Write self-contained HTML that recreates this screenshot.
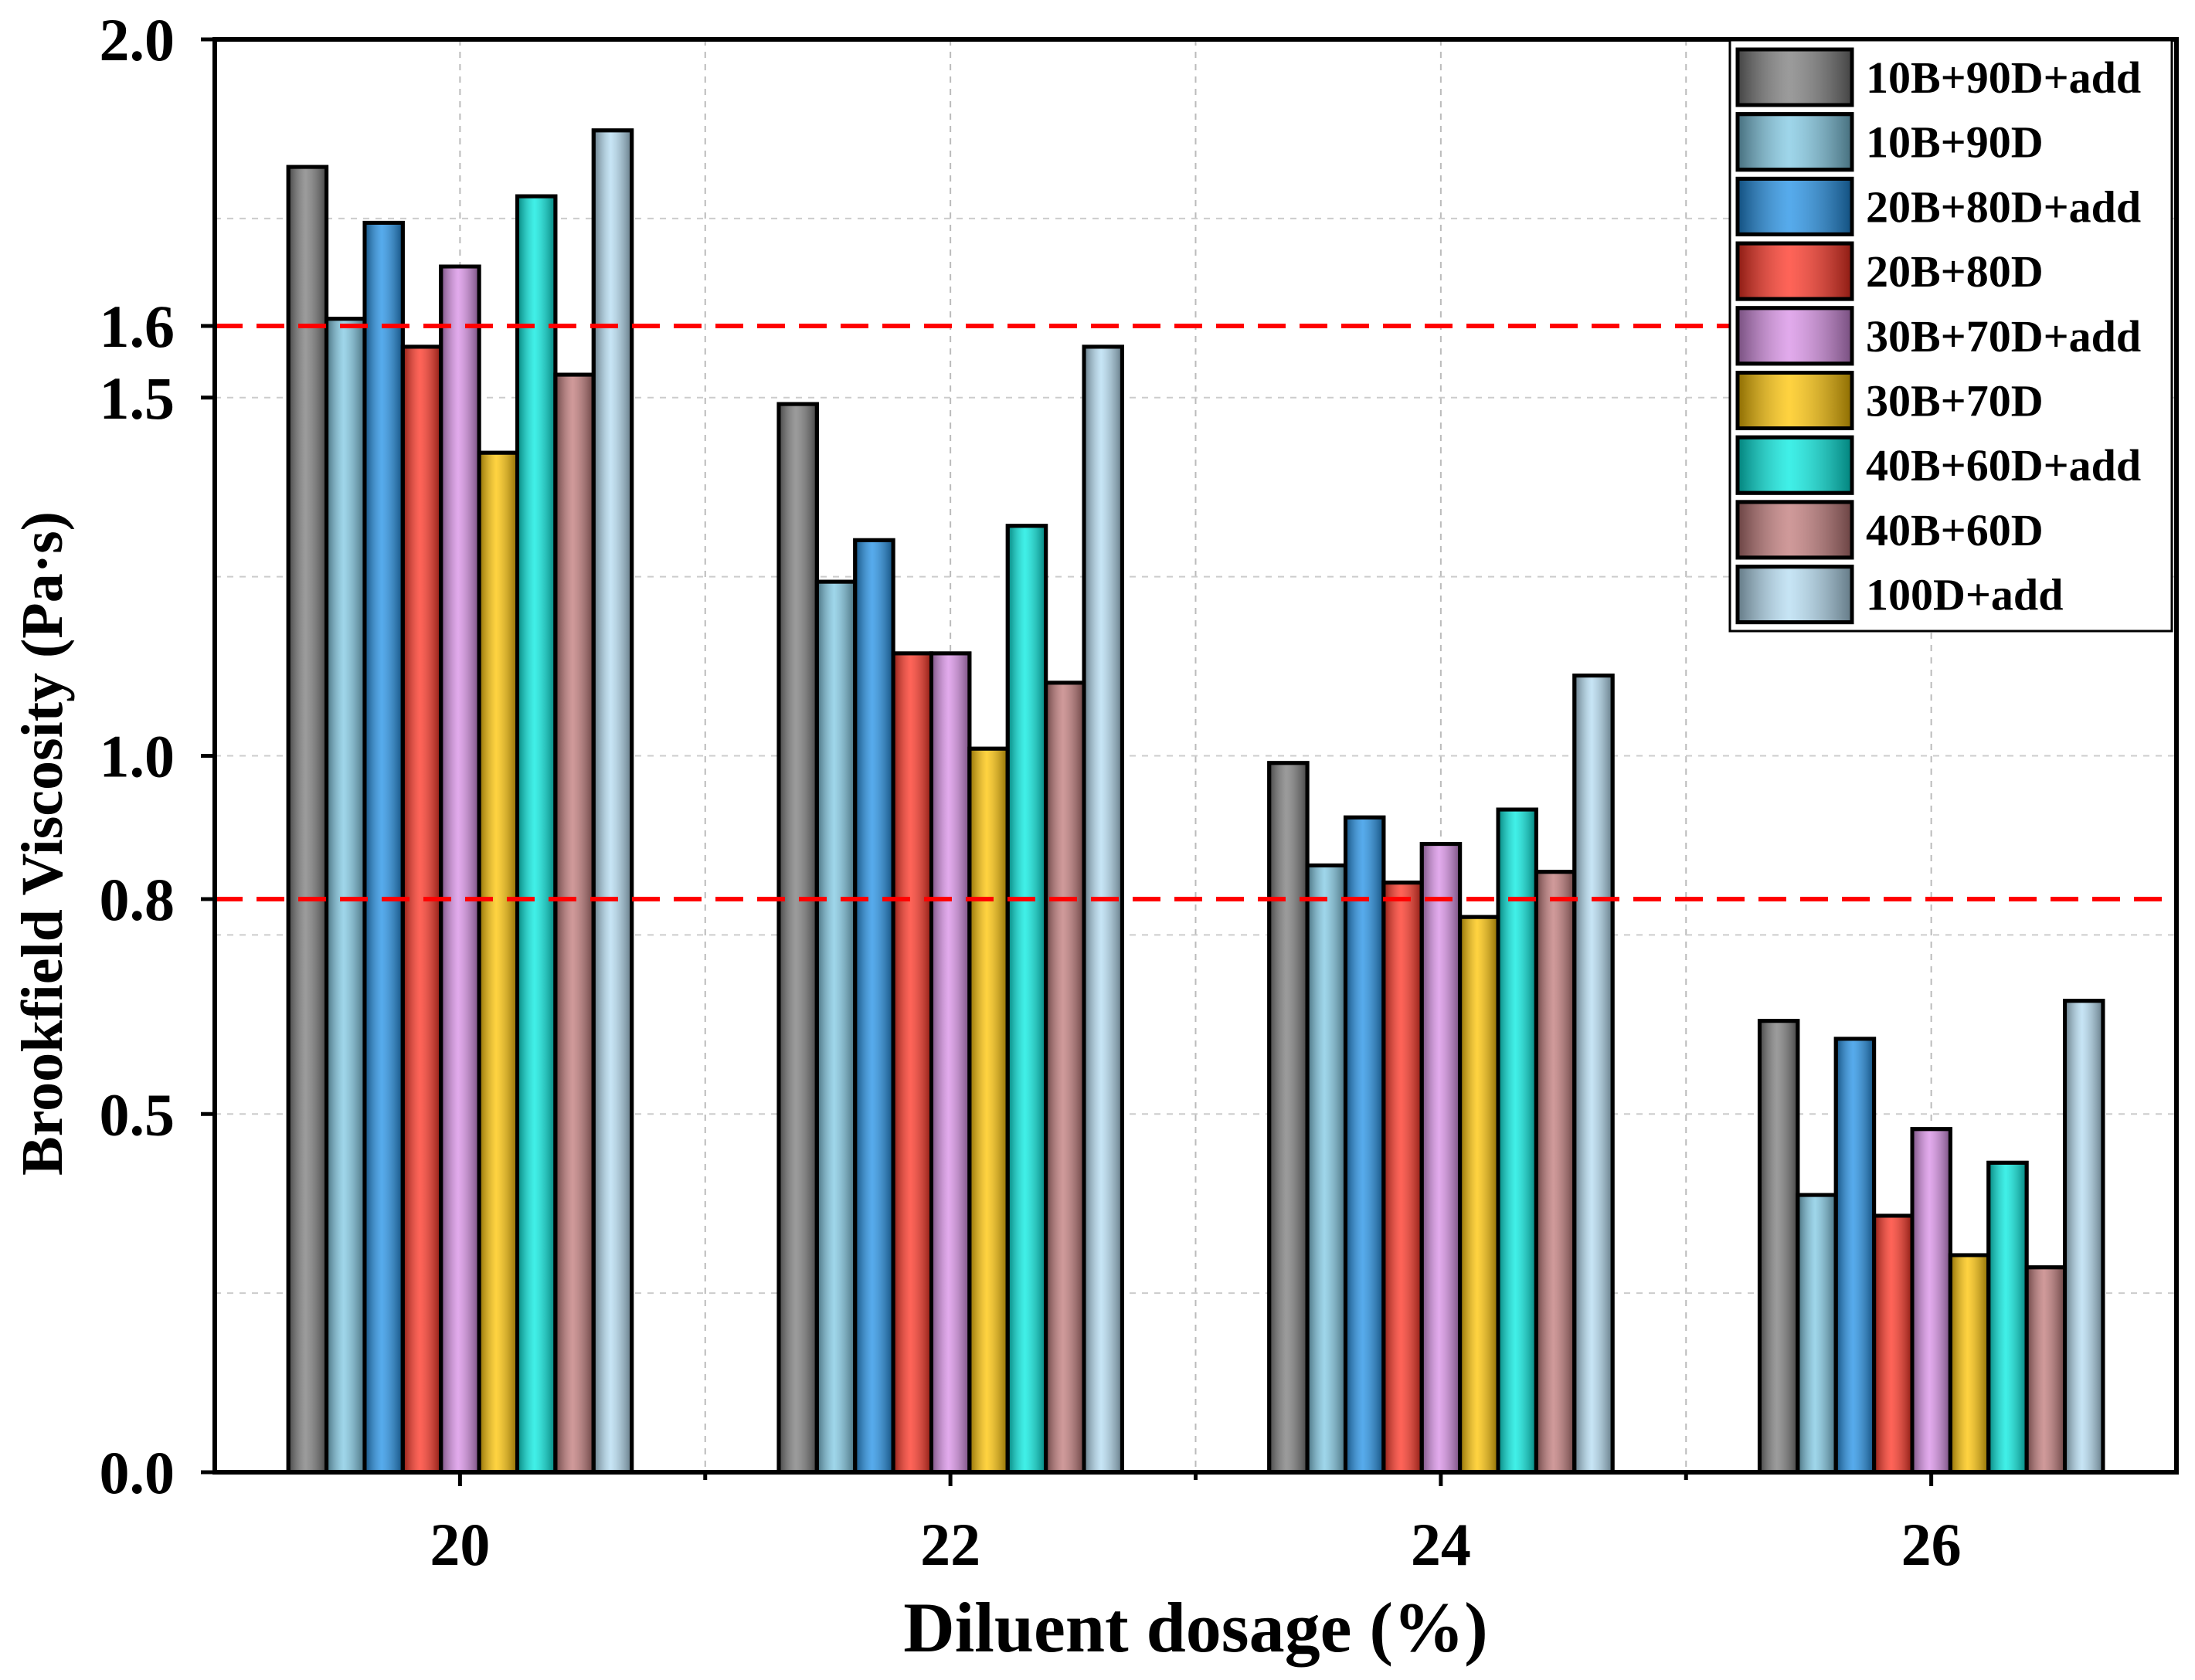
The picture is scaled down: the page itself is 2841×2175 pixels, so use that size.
<!DOCTYPE html>
<html><head><meta charset="utf-8"><style>
html,body{margin:0;padding:0;background:#fff}
svg{display:block}
text{font-family:"Liberation Serif",serif;font-weight:bold;fill:#000}
</style></head><body>
<svg id="chart" width="2841" height="2175" viewBox="0 0 2841 2175" xmlns="http://www.w3.org/2000/svg">
<defs id="defs"></defs>
<g id="grid"></g><g id="bars"></g><g id="axes"></g><g id="legend"></g>
</svg>
<script>
const categories=[20,22,24,26];
const seriesNames=["10B+90D+add","10B+90D","20B+80D+add","20B+80D","30B+70D+add","30B+70D","40B+60D+add","40B+60D","100D+add"];
const s0=[1.822,1.610,1.744,1.571,1.683,1.423,1.781,1.532,1.873];
const s1=[1.491,1.243,1.301,1.143,1.143,1.010,1.321,1.102,1.571];
const s2=[0.990,0.847,0.914,0.823,0.877,0.775,0.925,0.838,1.112];
const s3=[0.630,0.387,0.605,0.358,0.479,0.303,0.432,0.286,0.658];
const valuesByCategory=[s0,s1,s2,s3];
const yTicks=[0.0,0.5,1.0,1.5,2.0];
const refLines=[0.8,1.6];
const colors=["#7a7a7a","#7ec8e3","#1e8fe6","#ff3020","#d88ee6","#ffc400","#00ebe0","#c07878","#b4dcf2"];
const NS="http://www.w3.org/2000/svg";
const L=278,R=2817,T=51,B=1906;
const xmin=19,xmax=27,ymin=0,ymax=2;
const X=v=>L+(v-xmin)/(xmax-xmin)*(R-L);
const Y=v=>B-(v-ymin)/(ymax-ymin)*(B-T);
function el(tag,attrs,parent){const e=document.createElementNS(NS,tag);for(const k in attrs)e.setAttribute(k,attrs[k]);parent.appendChild(e);return e;}
const defs=document.getElementById('defs');
const sh=el('linearGradient',{id:'shade',x1:0,x2:1,y1:0,y2:0},defs);
el('stop',{offset:'0','stop-color':'#000','stop-opacity':'0.45'},sh);
el('stop',{offset:'0.45','stop-color':'#fff','stop-opacity':'0.25'},sh);
el('stop',{offset:'1','stop-color':'#000','stop-opacity':'0.45'},sh);
const grid=document.getElementById('grid');
for(let v=20;v<=26;v++){const l=el('line',{x1:X(v),x2:X(v),y1:T,y2:B,stroke:'#bbb','stroke-width':2,'stroke-dasharray':'8,8'},grid);
}
for(let v=0.25;v<2;v+=0.25){const l=el('line',{x1:L,x2:R,y1:Y(v),y2:Y(v),stroke:'#ccc','stroke-width':2,'stroke-dasharray':'8,8'},grid);
}
const bars=document.getElementById('bars');
const bw=0.1556;
categories.forEach((c,ci)=>{valuesByCategory[ci].forEach((v,si)=>{
 const x0=X(c-0.7+si*bw),w=X(c-0.7+(si+1)*bw)-x0;
 const r=el('rect',{x:x0,y:Y(v),width:w,height:Y(0)-Y(v),fill:colors[si],stroke:'#000','stroke-width':5},bars);
 
 
 const o=el('rect',{x:x0,y:Y(v),width:w,height:Y(0)-Y(v),fill:'url(#shade)',stroke:'#000','stroke-width':5},bars);
 
 
});});
refLines.forEach(v=>{const l=el('line',{x1:L,x2:R,y1:Y(v),y2:Y(v),stroke:'#ff0000','stroke-width':6,'stroke-dasharray':'36,18'},bars);

});
const ax=document.getElementById('axes');
const fr=el('rect',{x:L,y:T,width:R-L,height:B-T,fill:'none',stroke:'#000','stroke-width':6},ax);


yTicks.concat(refLines).forEach(v=>{
 const t=el('line',{x1:L-18,x2:L,y1:Y(v),y2:Y(v),stroke:'#000','stroke-width':5},ax);
 
 
 const tx=el('text',{x:L-52,y:Y(v)+27,'text-anchor':'end','font-size':78},ax);tx.textContent=v.toFixed(1);
 
 
});
for(let v=20;v<=26;v++){const major=categories.includes(v);
 const t=el('line',{x1:X(v),x2:X(v),y1:B,y2:B+(major?18:10),stroke:'#000','stroke-width':5},ax);
 
 }
categories.forEach(c=>{const tx=el('text',{x:X(c),y:B+120,'text-anchor':'middle','font-size':78},ax);tx.textContent=c;
 
 });
const xt=el('text',{x:(L+R)/2,y:2138,'text-anchor':'middle','font-size':92},ax);xt.textContent='Diluent dosage (%)';


const yt=el('text',{x:0,y:0,'text-anchor':'middle','font-size':76,transform:'translate(80,1092) rotate(-90)'},ax);yt.textContent='Brookfield Viscosity (Pa·s)';


const lg=document.getElementById('legend');
const lb=el('rect',{x:2239,y:52,width:572,height:765,fill:'#fff',stroke:'#000','stroke-width':3},lg);


seriesNames.forEach((n,i)=>{const cy=100+i*83.7;
 const g=el('g',{},lg);
 
 
 el('rect',{x:2249,y:cy-36,width:148,height:72,fill:colors[i],stroke:'#000','stroke-width':5},g);
 el('rect',{x:2249,y:cy-36,width:148,height:72,fill:'url(#shade)',stroke:'#000','stroke-width':5},g);
 const tx=el('text',{x:2415,y:cy+20,'font-size':58},g);tx.textContent=n;
});
</script>
</body></html>
